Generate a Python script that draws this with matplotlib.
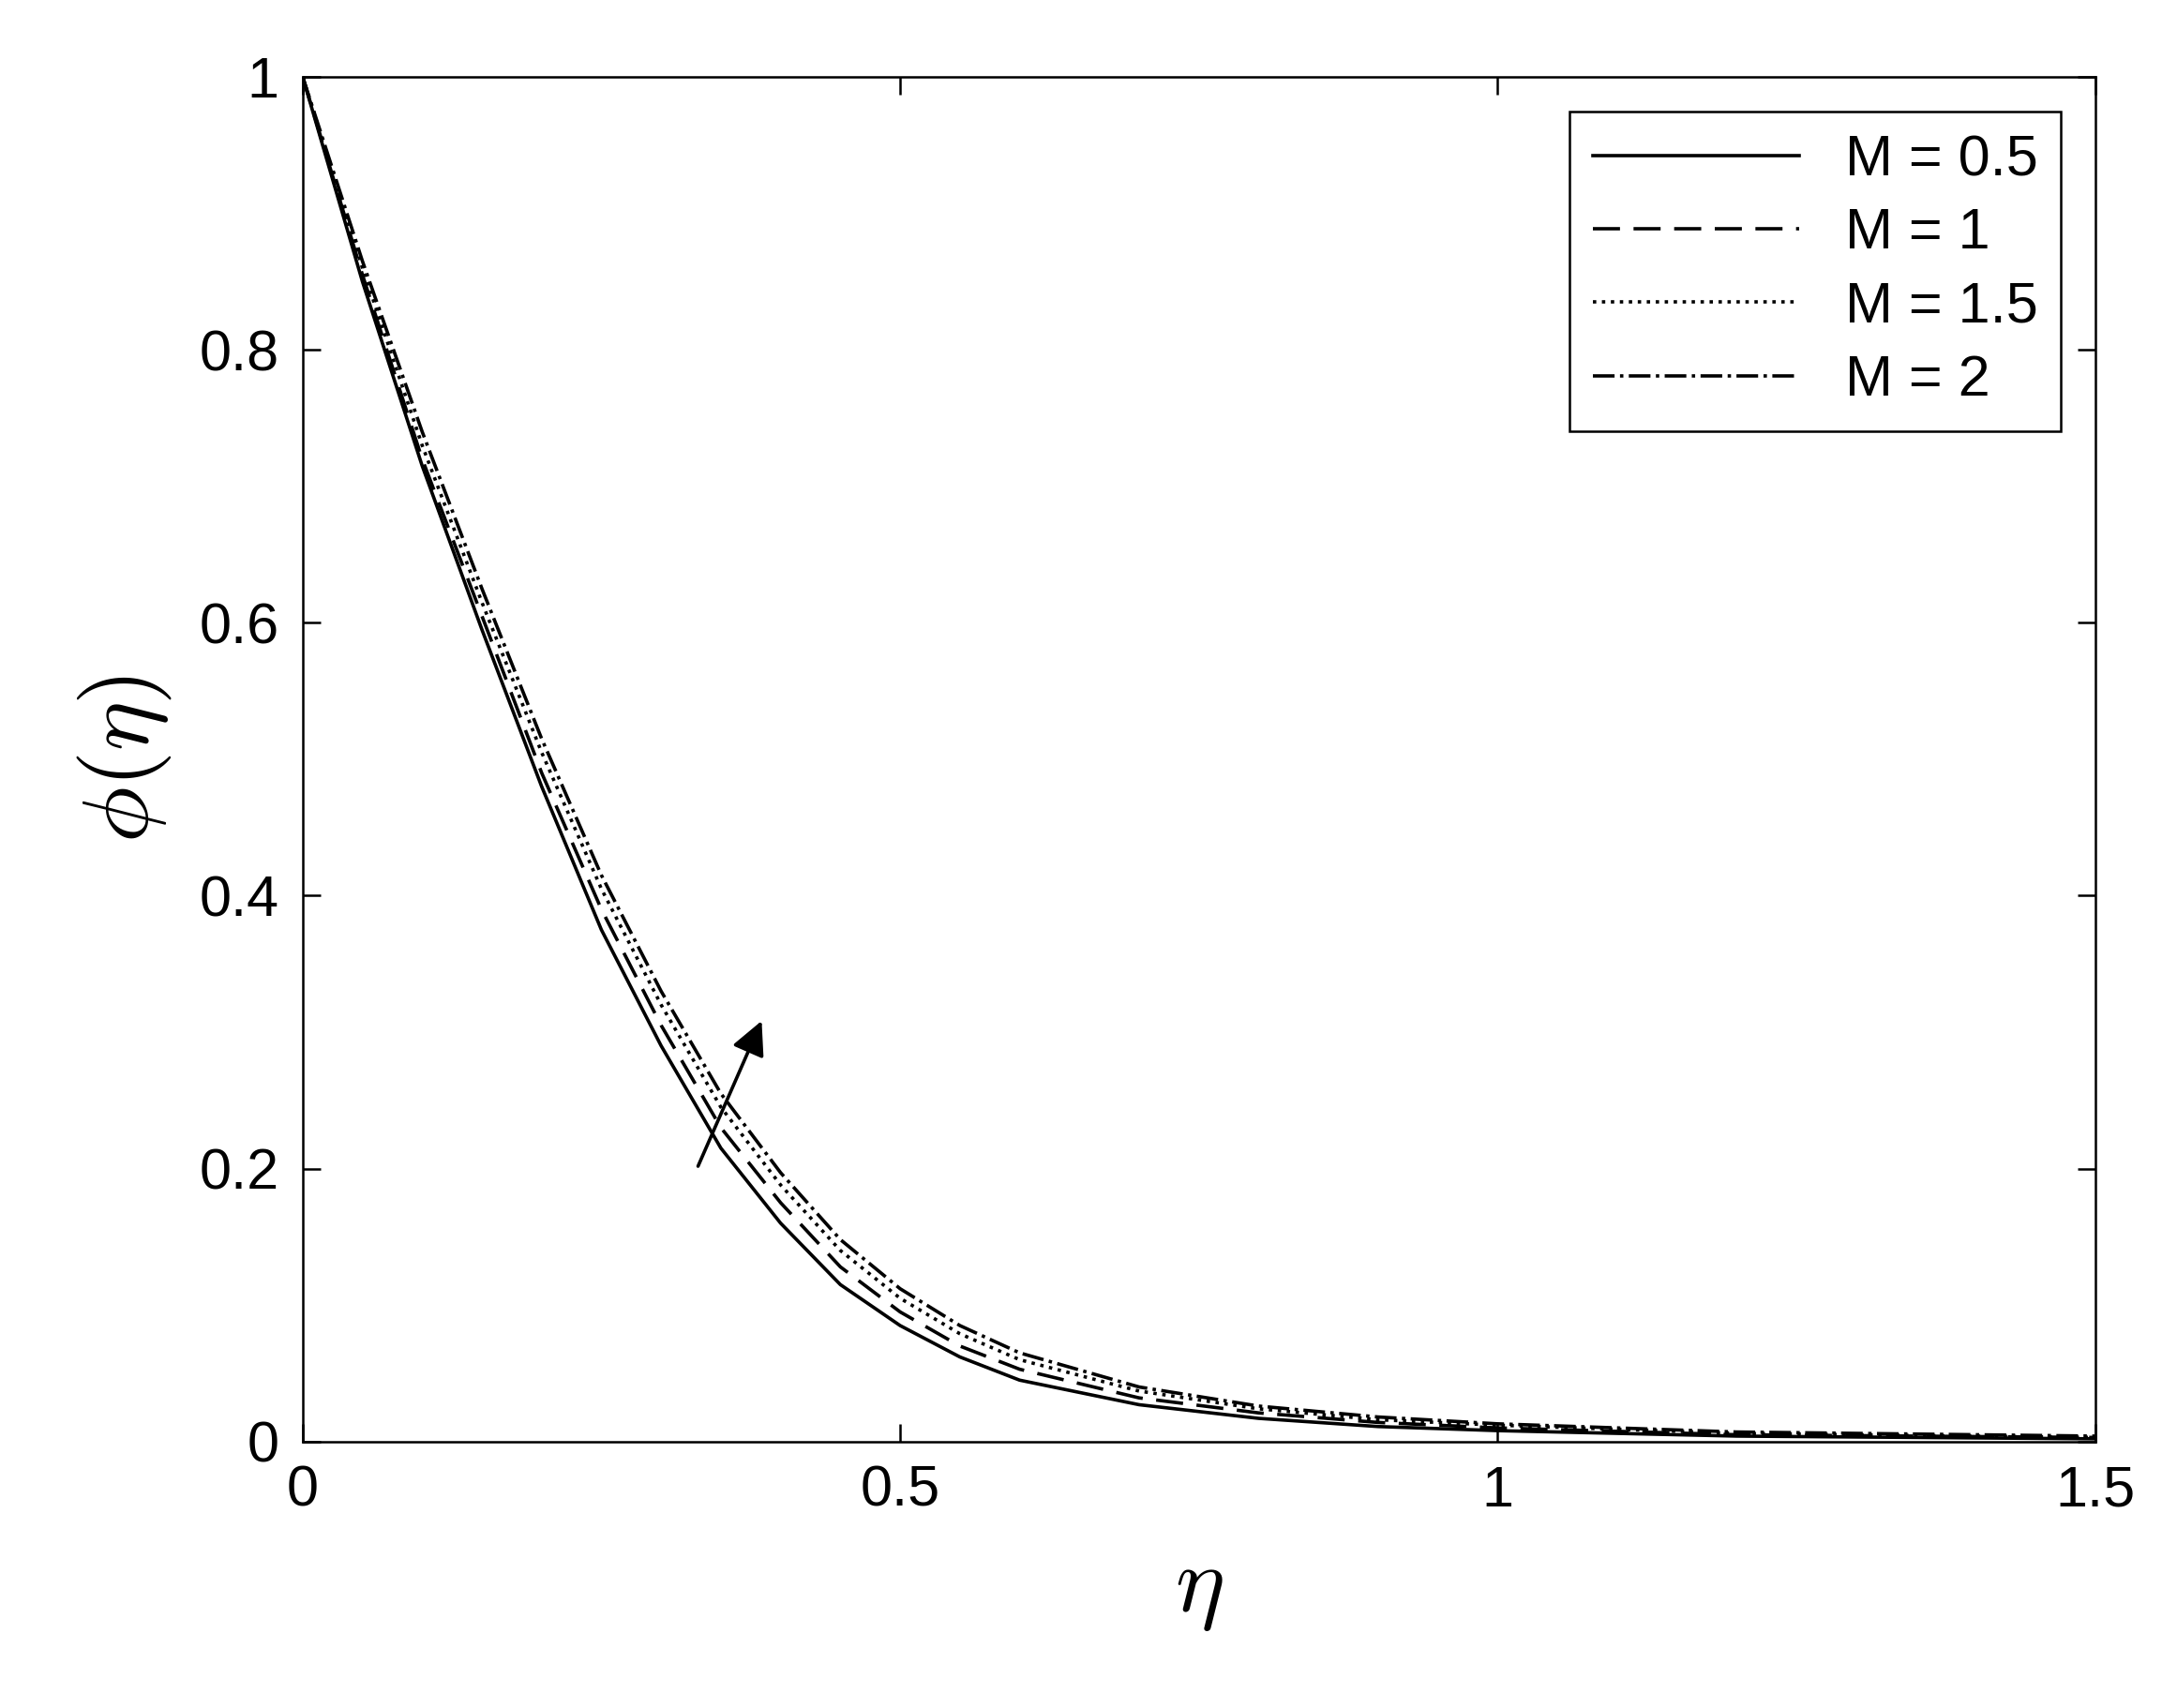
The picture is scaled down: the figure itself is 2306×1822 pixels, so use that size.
import matplotlib
matplotlib.use("Agg")
import matplotlib.pyplot as plt

eta = [0, 0.05, 0.1, 0.15, 0.2, 0.25, 0.3, 0.35, 0.4, 0.45, 0.5, 0.55, 0.6, 0.7, 0.8, 0.9, 1.0, 1.2, 1.5]
phi_m05 = [1, 0.85, 0.715, 0.595, 0.48, 0.375, 0.29, 0.215, 0.16, 0.115, 0.085, 0.062, 0.045, 0.027, 0.017, 0.011, 0.008, 0.004, 0.002]
phi_m1 = [1, 0.855, 0.72, 0.605, 0.49, 0.39, 0.305, 0.23, 0.175, 0.128, 0.095, 0.07, 0.053, 0.032, 0.021, 0.014, 0.010, 0.005, 0.003]
phi_m15 = [1, 0.86, 0.73, 0.615, 0.505, 0.405, 0.32, 0.245, 0.188, 0.14, 0.105, 0.079, 0.06, 0.037, 0.024, 0.016, 0.012, 0.006, 0.003]
phi_m2 = [1, 0.865, 0.74, 0.625, 0.515, 0.415, 0.33, 0.255, 0.197, 0.148, 0.112, 0.085, 0.065, 0.040, 0.026, 0.018, 0.013, 0.007, 0.004]
labels = ["M = 0.5", "M = 1", "M = 1.5", "M = 2"]

plt.rcParams.update({"font.family": "Liberation Sans", "font.size": 44,
                     "mathtext.fontset": "cm"})

fig = plt.figure(figsize=(23.06, 18.22), dpi=100)
ax = fig.add_axes([0.14, 0.156, 0.829, 0.799])

styles = ["-", (0, (8, 4)), ":", "-."]
for ys, ls, lab in zip([phi_m05, phi_m1, phi_m15, phi_m2], styles, labels):
    ax.plot(eta, ys, color="black", linestyle=ls, linewidth=2.6, label=lab)

ax.annotate("", xy=(0.385, 0.31), xytext=(0.33, 0.2),
            arrowprops=dict(arrowstyle="-|>", color="black", lw=2.6, mutation_scale=55))

ax.set_xlim(0, 1.5)
ax.set_ylim(0, 1)
ax.set_xticks([0, 0.5, 1, 1.5])
ax.set_xticklabels(["0", "0.5", "1", "1.5"])
ax.set_yticks([0, 0.2, 0.4, 0.6, 0.8, 1])
ax.set_yticklabels(["0", "0.2", "0.4", "0.6", "0.8", "1"])
ax.tick_params(direction="in", top=True, right=True, length=14, width=1.8, pad=18)
for s in ax.spines.values():
    s.set_linewidth(1.8)
ax.set_xlabel(r"$\eta$", fontsize=72, labelpad=20)
ax.set_ylabel(r"$\phi(\eta)$", fontsize=72, labelpad=20)

leg = ax.legend(loc="upper right", fontsize=44, handlelength=3.6, fancybox=False,
                edgecolor="black", framealpha=1, borderaxespad=0.6,
                labelspacing=0.35, borderpad=0.4)
leg.get_frame().set_linewidth(1.8)

fig.savefig("out.png", dpi=100)
